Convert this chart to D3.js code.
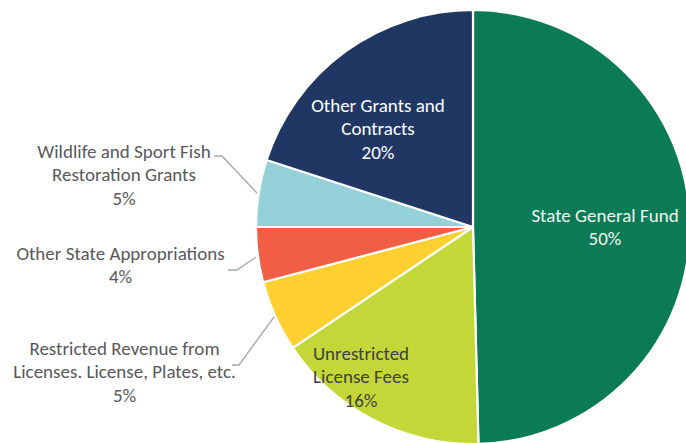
<!DOCTYPE html>
<html><head><meta charset="utf-8">
<script src="https://cdn.jsdelivr.net/npm/d3@7"></script>
<style>html,body{margin:0;padding:0;background:#fff;}svg{display:block;}</style>
</head><body>
<svg id="chart" width="686" height="443"></svg>
<script>
const categories = ["State General Fund","Unrestricted License Fees","Restricted Revenue from Licenses. License, Plates, etc.","Other State Appropriations","Wildlife and Sport Fish Restoration Grants","Other Grants and Contracts"];
const values = [49.6, 16.0, 5.3, 4.1, 5.0, 20.0];
const pctLabels = ["50%","16%","5%","4%","5%","20%"];
const colors = ["#0A7B54","#C3D838","#FFD030","#F15E45","#95D1D9","#213763"];

// label layout (positions / line breaks) – not data
const layout = [
  {lines:["State General Fund"], x:605, y:215, fill:"#EEF5F1", leader:null},
  {lines:["Unrestricted","License Fees"], x:361, y:353, fill:"#404040", leader:null},
  {lines:["Restricted Revenue from","Licenses. License, Plates, etc."], x:124.5, y:348, fill:"#595959", leader:[[232,365],[239,365],[274,317]]},
  {lines:["Other State Appropriations"], x:120.5, y:253, fill:"#595959", leader:[[228,270],[237,270],[256,257]]},
  {lines:["Wildlife and Sport Fish","Restoration Grants"], x:124, y:151, fill:"#595959", leader:[[214,156],[222,156],[257,193]]},
  {lines:["Other Grants and","Contracts"], x:378, y:105, fill:"#FFFFFF", leader:null}
];

const data = categories.map((c,i)=>({cat:c, value:values[i], pct:pctLabels[i], color:colors[i], lay:layout[i]}));

const svg = d3.select("#chart");
const cx = 473, cy = 227, r = 217;
const g = svg.append("g").attr("transform",`translate(${cx},${cy})`);

const pie = d3.pie().value(d=>d.value).sort(null);
const arc = d3.arc().innerRadius(0).outerRadius(r);

g.selectAll("path.slice").data(pie(data)).join("path")
  .attr("class","slice")
  .attr("d",arc)
  .attr("fill",d=>d.data.color)
  .attr("stroke","#fff")
  .attr("stroke-width",2.2)
  .attr("stroke-linejoin","round");

const line = d3.line();
svg.selectAll("path.leader").data(data.filter(d=>d.lay.leader)).join("path")
  .attr("class","leader")
  .attr("d",d=>line(d.lay.leader))
  .attr("fill","none")
  .attr("stroke","#A6A6A6")
  .attr("stroke-width",1.3);

const lh = 23.7;
data.forEach(d=>{
  const t = svg.append("text")
    .attr("text-anchor","middle")
    .attr("font-family","Carlito, Calibri, Lato, sans-serif")
    .attr("font-size","19px")
    .attr("fill",d.lay.fill);
  const lines = d.lay.lines.concat([d.pct]);
  lines.forEach((s,i)=>{
    t.append("tspan").attr("x",d.lay.x).attr("y",d.lay.y + i*lh).attr("dy","0.35em").text(s);
  });
});
</script>
</body></html>
